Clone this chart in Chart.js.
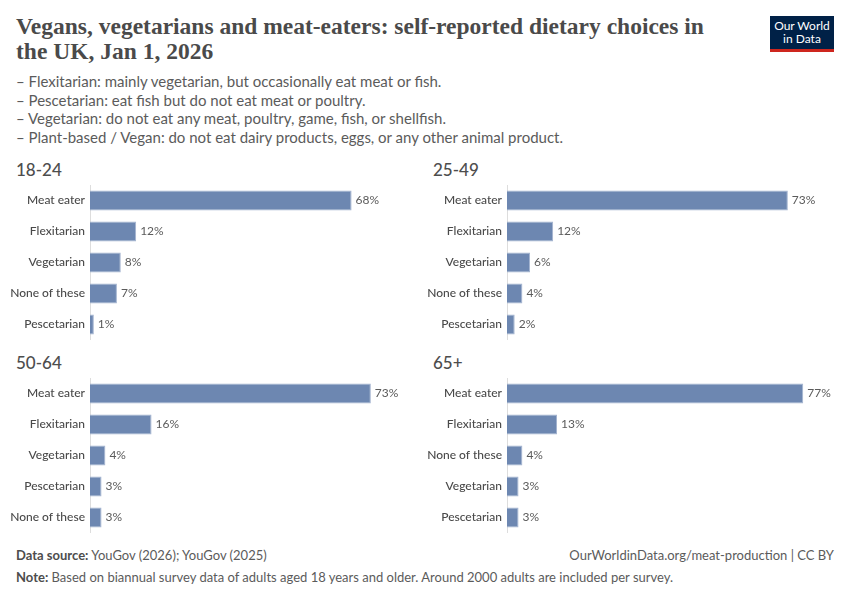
<!DOCTYPE html>
<html lang="en">
<head>
    <meta charset="UTF-8">
    <title>Vegans, vegetarians and meat-eaters</title>
    <script src="https://cdn.jsdelivr.net/npm/chart.js"></script>
    <style>
        body {
            margin: 0;
            width: 850px;
            height: 600px;
            background: #fff;
            font-family: Lato, "Noto Sans", sans-serif;
            position: relative;
            overflow: hidden;
        }
        .title {
            position: absolute;
            left: 16px;
            top: 14px;
            width: 700px;
            font-family: "Liberation Serif", "DejaVu Serif", serif;
            font-weight: bold;
            font-size: 23.5px;
            line-height: 25px;
            color: #4a4a4a;
        }
        .subtitle {
            position: absolute;
            left: 16px;
            top: 72px;
            font-size: 15px;
            line-height: 18.7px;
            color: #5b5b5b;
        }
        .logo {
            position: absolute;
            left: 770px;
            top: 16px;
            width: 64px;
            height: 30px;
            background: #002147;
            border-bottom: 3px solid #ce261e;
            color: #fff;
            font-size: 12px;
            line-height: 13px;
            text-align: center;
            padding-top: 3px;
        }
        .panel-title {
            position: absolute;
            font-size: 17px;
            font-weight: 500;
            color: #4d4d4d;
        }
        .panel {
            position: absolute;
            width: 409px;
            height: 155px;
        }
        .footer {
            position: absolute;
            font-size: 13px;
            color: #5b5b5b;
        }
        .footer b { color: #4d4d4d; }
    </style>
</head>
<body>
    <div class="title">Vegans, vegetarians and meat-eaters: self-reported dietary choices in the UK, Jan 1, 2026</div>
    <div class="subtitle">
        – Flexitarian: mainly vegetarian, but occasionally eat meat or fish.<br>
        – Pescetarian: eat fish but do not eat meat or poultry.<br>
        – Vegetarian: do not eat any meat, poultry, game, fish, or shellfish.<br>
        – Plant-based / Vegan: do not eat dairy products, eggs, or any other animal product.
    </div>
    <div class="logo">Our World<br>in Data</div>

    <div class="panel-title" style="left:16px; top:159px;">18-24</div>
    <div class="panel" style="left:8px; top:185px;"><canvas id="c1"></canvas></div>
    <div class="panel-title" style="left:433px; top:159px;">25-49</div>
    <div class="panel" style="left:425px; top:185px;"><canvas id="c2"></canvas></div>
    <div class="panel-title" style="left:16px; top:352px;">50-64</div>
    <div class="panel" style="left:8px; top:378px;"><canvas id="c3"></canvas></div>
    <div class="panel-title" style="left:433px; top:352px;">65+</div>
    <div class="panel" style="left:425px; top:378px;"><canvas id="c4"></canvas></div>

    <div class="footer" style="left:16px; top:547px;"><b>Data source:</b> YouGov (2026); YouGov (2025)</div>
    <div class="footer" style="right:16px; top:547px;">OurWorldinData.org/meat-production | CC BY</div>
    <div class="footer" style="left:16px; top:569px;"><b>Note:</b> Based on biannual survey data of adults aged 18 years and older. Around 2000 adults are included per survey.</div>

    <script>
        // Data per age group
        var labels1824 = ['Meat eater', 'Flexitarian', 'Vegetarian', 'None of these', 'Pescetarian'];
        var values1824 = [68, 12, 8, 7, 1];

        var labels2549 = ['Meat eater', 'Flexitarian', 'Vegetarian', 'None of these', 'Pescetarian'];
        var values2549 = [73, 12, 6, 4, 2];

        var labels5064 = ['Meat eater', 'Flexitarian', 'Vegetarian', 'Pescetarian', 'None of these'];
        var values5064 = [73, 16, 4, 3, 3];

        var labels65 = ['Meat eater', 'Flexitarian', 'None of these', 'Vegetarian', 'Pescetarian'];
        var values65 = [77, 13, 4, 3, 3];

        var xMax = 85;

        // value labels at the end of each bar
        var valueLabels = {
            id: 'valueLabels',
            afterDatasetsDraw: function(chart) {
                var ctx = chart.ctx;
                var meta = chart.getDatasetMeta(0);
                var data = chart.data.datasets[0].data;
                ctx.save();
                ctx.font = '12px Lato';
                ctx.fillStyle = '#5b5b5b';
                ctx.textBaseline = 'middle';
                meta.data.forEach(function(bar, i) {
                    ctx.fillText(data[i] + '%', bar.x + 4, bar.y);
                });
                ctx.restore();
            }
        };

        function makeChart(id, labels, values) {
            var ctx = document.getElementById(id).getContext('2d');
            return new Chart(ctx, {
                type: 'bar',
                data: {
                    labels: labels,
                    datasets: [{
                        data: values,
                        backgroundColor: '#6d87b1',
                        borderColor: '#a3b3cf',
                        borderWidth: 1,
                        borderSkipped: 'left',
                        barPercentage: 0.65,
                        categoryPercentage: 1
                    }]
                },
                options: {
                    indexAxis: 'y',
                    responsive: true,
                    maintainAspectRatio: false,
                    animation: false,
                    layout: { padding: 0, autoPadding: false },
                    plugins: {
                        legend: { display: false },
                        tooltip: { enabled: false }
                    },
                    scales: {
                        x: {
                            display: false,
                            min: 0,
                            max: xMax
                        },
                        y: {
                            afterFit: function(scale) {
                                scale.width = 82;
                                // no extra room above/below the bars
                                scale.paddingTop = 0;
                                scale.paddingBottom = 0;
                                if (scale._margins) {
                                    scale._margins.top = 0;
                                    scale._margins.bottom = 0;
                                }
                            },
                            grid: { display: false, drawTicks: false },
                            border: { color: '#dddddd', width: 1 },
                            ticks: {
                                padding: 5,
                                color: '#4a4a4a',
                                font: { family: 'Lato', size: 12, weight: '500' }
                            }
                        }
                    }
                },
                plugins: [valueLabels]
            });
        }

        makeChart('c1', labels1824, values1824);
        makeChart('c2', labels2549, values2549);
        makeChart('c3', labels5064, values5064);
        makeChart('c4', labels65, values65);
    </script>
</body>
</html>
